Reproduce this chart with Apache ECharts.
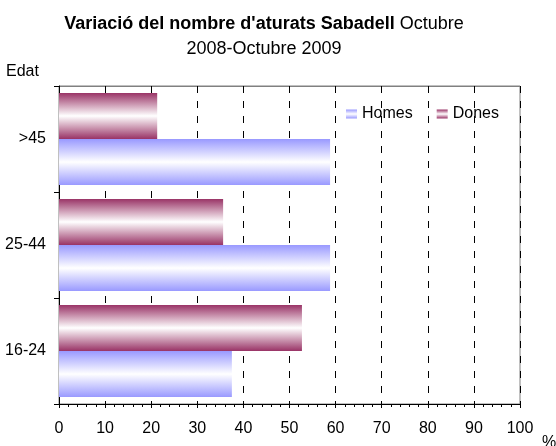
<!DOCTYPE html>
<html>
<head>
<meta charset="utf-8">
<script src="https://cdn.jsdelivr.net/npm/echarts@6/dist/echarts.min.js"></script>
<style>html,body{margin:0;padding:0;background:#fff}#c{width:556px;height:446px}</style>
</head>
<body>
<div id="c"></div>
<script>
var categories = ['16-24', '25-44', '>45'];
var homes = [37.5, 58.8, 58.8];
var dones = [52.7, 35.6, 21.3];
var xTicks = [0, 10, 20, 30, 40, 50, 60, 70, 80, 90, 100];

function grad(c) {
  return new echarts.graphic.LinearGradient(0, 0, 0, 1, [
    {offset: 0, color: c}, {offset: 0.5, color: '#ffffff'}, {offset: 1, color: c}
  ]);
}
var FONT = 'Liberation Sans, Arial, sans-serif';
var chart = echarts.init(document.getElementById('c'));
chart.setOption({
  animation: false,
  textStyle: {fontFamily: FONT},
  title: [{
    left: 259, top: 7, textAlign: 'center',
    text: '{b|Variació del nombre d\'aturats Sabadell} {n|Octubre}\n{n|2008-Octubre 2009}',
    textStyle: {
      fontFamily: FONT, fontSize: 18, fontWeight: 'normal', color: '#000', lineHeight: 25,
      rich: {
        b: {fontFamily: FONT, fontSize: 18, fontWeight: 'bold', color: '#000', lineHeight: 25},
        n: {fontFamily: FONT, fontSize: 18, fontWeight: 'normal', color: '#000', lineHeight: 25}
      }
    }
  }, {
    left: 1, top: 59, text: 'Edat',
    textStyle: {fontFamily: FONT, fontSize: 16, fontWeight: 'normal', color: '#000'}
  }, {
    left: 537, top: 430, text: '%',
    textStyle: {fontFamily: FONT, fontSize: 16, fontWeight: 'normal', color: '#000'}
  }],
  legend: {
    left: 341, top: 101, itemWidth: 11, itemHeight: 9, itemGap: 24,
    icon: 'rect',
    textStyle: {fontFamily: FONT, fontSize: 16, color: '#000'},
    data: ['Homes', 'Dones']
  },
  grid: {left: 59, right: 36, top: 86, bottom: 42, show: true, borderColor: '#808080', borderWidth: 1, containLabel: false},
  xAxis: [{
    type: 'value', min: 0, max: 100, interval: 10,
    axisLine: {show: true, lineStyle: {color: '#000'}},
    axisTick: {show: true, length: 4, lineStyle: {color: '#000'}},
    minorTick: {show: true, splitNumber: 5, length: 3, lineStyle: {color: '#000'}},
    axisLabel: {fontFamily: FONT, fontSize: 16, color: '#000', margin: 17,
      formatter: function (v) { return xTicks.indexOf(v) >= 0 ? String(v) : ''; }},
    splitLine: {show: true, lineStyle: {color: '#000', type: [7, 8], width: 1}}
  }, {
    type: 'value', position: 'top', min: 0, max: 100, interval: 10,
    axisLine: {show: true, lineStyle: {color: '#808080'}},
    axisTick: {show: true, inside: true, length: 4, lineStyle: {color: '#000'}},
    axisLabel: {show: false}, splitLine: {show: false}
  }],
  yAxis: {
    type: 'category', data: categories,
    axisLine: {show: true, lineStyle: {color: '#000'}},
    axisTick: {show: true, length: 5, lineStyle: {color: '#000'}},
    axisLabel: {fontFamily: FONT, fontSize: 16, color: '#000', margin: 13}
  },
  series: [{
    name: 'Dones', type: 'bar', data: dones, xAxisIndex: 0,
    barGap: '0%', barCategoryGap: '13%',
    itemStyle: {color: grad('#993366')}
  }, {
    name: 'Homes', type: 'bar', data: homes, xAxisIndex: 0,
    barGap: '0%', barCategoryGap: '13%',
    itemStyle: {color: grad('#9999ff')}
  }]
});
</script>
</body>
</html>
